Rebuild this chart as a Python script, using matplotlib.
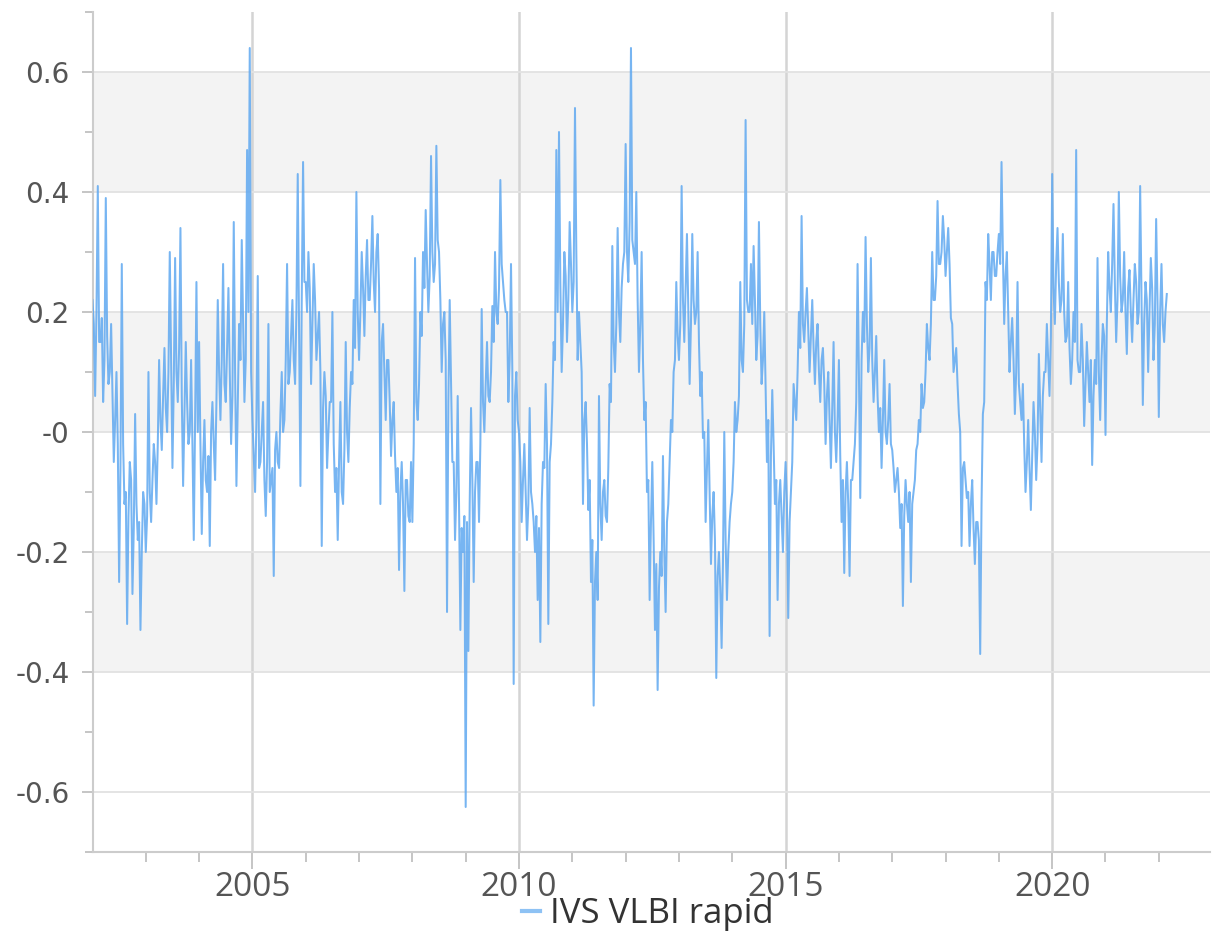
import numpy as np
import matplotlib
matplotlib.use("Agg")
import matplotlib.pyplot as plt
from matplotlib.ticker import MultipleLocator, FixedLocator, FuncFormatter

# spike readings every 0.05 yr, one list per year (2002.00 ... 2002.95 etc.)
y2002 = [0.22, 0.06, 0.41, 0.15, 0.05, 0.39, 0.08, 0.18, -0.05, 0.10,
         -0.25, 0.28, -0.12, -0.32, -0.05, -0.27, 0.03, -0.18, -0.33, -0.10]
y2003 = [-0.20, 0.10, -0.15, -0.02, -0.12, 0.12, -0.03, 0.14, 0.00, 0.30,
         -0.06, 0.29, 0.05, 0.34, -0.09, 0.15, -0.02, 0.12, -0.18, 0.25]
y2004 = [0.15, -0.17, 0.02, -0.10, -0.19, 0.05, -0.08, 0.22, 0.02, 0.28,
         0.05, 0.24, -0.02, 0.35, -0.09, 0.18, 0.32, 0.05, 0.47, 0.64]
y2005 = [0.02, -0.10, 0.26, -0.05, 0.05, -0.14, 0.18, -0.08, -0.24, 0.00,
         -0.06, 0.10, 0.02, 0.28, 0.10, 0.22, 0.08, 0.43, -0.09, 0.45]
y2006 = [0.25, 0.30, 0.08, 0.28, 0.12, 0.20, -0.19, 0.10, -0.06, 0.05,
         0.20, -0.10, -0.18, 0.05, -0.12, 0.15, -0.05, 0.10, 0.22, 0.40]
y2007 = [0.12, 0.30, 0.16, 0.32, 0.22, 0.36, 0.20, 0.33, -0.12, 0.18,
         0.02, 0.12, -0.04, 0.05, -0.10, -0.23, -0.05, -0.265, -0.08, -0.15]
y2008 = [-0.15, 0.29, 0.02, 0.20, 0.30, 0.37, 0.20, 0.46, 0.25, 0.477,
         0.30, 0.10, 0.20, -0.30, 0.22, -0.05, -0.18, 0.06, -0.33, -0.20]
y2009 = [-0.625, -0.365, 0.04, -0.25, -0.05, -0.15, 0.205, 0.00, 0.15, 0.05,
         0.21, 0.30, 0.18, 0.42, 0.25, 0.20, 0.05, 0.28, -0.42, 0.10]
y2010 = [0.00, -0.15, -0.02, -0.18, 0.04, -0.12, -0.20, -0.28, -0.35, -0.05,
         0.08, -0.32, -0.02, 0.15, 0.47, 0.50, 0.10, 0.30, 0.15, 0.35]
y2011 = [0.20, 0.54, 0.12, 0.15, -0.12, 0.05, -0.13, -0.25, -0.456, -0.20,
         0.06, -0.18, -0.08, -0.15, 0.08, 0.31, 0.10, 0.34, 0.15, 0.28]
y2012 = [0.48, 0.25, 0.64, 0.30, 0.40, 0.10, 0.30, 0.02, -0.10, -0.28,
         -0.05, -0.33, -0.43, -0.20, -0.04, -0.30, -0.12, 0.02, 0.10, 0.25]
y2013 = [0.12, 0.41, 0.15, 0.33, 0.08, 0.33, 0.18, 0.30, 0.06, -0.01,
         -0.15, 0.02, -0.22, -0.10, -0.41, -0.20, -0.36, 0.00, -0.28, -0.15]
y2014 = [-0.10, 0.05, 0.02, 0.25, 0.10, 0.52, 0.20, 0.28, 0.31, 0.12,
         0.35, 0.08, 0.20, -0.05, -0.34, 0.07, -0.12, -0.28, -0.08, -0.20]
y2015 = [-0.05, -0.31, -0.10, 0.08, 0.02, 0.20, 0.36, 0.15, 0.24, 0.10,
         0.22, 0.08, 0.18, 0.05, 0.14, -0.02, 0.10, -0.06, 0.15, -0.05]
y2016 = [0.12, -0.15, -0.235, -0.05, -0.24, -0.08, -0.02, 0.28, -0.11, 0.20,
         0.325, 0.10, 0.29, 0.05, 0.16, 0.00, -0.06, 0.12, -0.02, 0.08]
y2017 = [-0.03, -0.10, -0.06, -0.16, -0.29, -0.08, -0.15, -0.25, -0.10, -0.03,
         0.02, 0.08, 0.05, 0.18, 0.12, 0.30, 0.22, 0.385, 0.28, 0.36]
y2018 = [0.26, 0.34, 0.19, 0.10, 0.14, 0.03, -0.19, -0.05, -0.11, -0.19,
         -0.08, -0.22, -0.15, -0.37, 0.03, 0.25, 0.33, 0.22, 0.30, 0.26]
y2019 = [0.33, 0.45, 0.18, 0.30, 0.10, 0.19, 0.03, 0.25, 0.05, 0.08,
         -0.10, 0.02, -0.13, 0.05, -0.08, 0.13, -0.05, 0.10, 0.18, 0.06]
y2020 = [0.43, 0.18, 0.34, 0.20, 0.33, 0.15, 0.25, 0.08, 0.20, 0.47,
         0.10, 0.18, 0.01, 0.15, 0.05, -0.055, 0.12, 0.29, 0.02, 0.18]
y2021 = [-0.005, 0.30, 0.20, 0.38, 0.15, 0.40, 0.20, 0.30, 0.13, 0.27,
         0.15, 0.28, 0.18, 0.41, 0.045, 0.25, 0.10, 0.29, 0.12, 0.355]
y2022 = [0.025, 0.28, 0.15, 0.23]

# core (typical) readings between the spikes, at 2002.025, 2002.075, ...
c2002 = [0.18, 0.20, 0.15, 0.19, 0.12, 0.16, 0.10, 0.06, 0.02, -0.02,
         -0.06, -0.02, -0.10, -0.14, -0.08, -0.16, -0.12, -0.15, -0.20, -0.12]
c2003 = [-0.14, -0.10, -0.08, -0.05, -0.02, 0.02, 0.06, 0.04, 0.10, 0.12,
         0.08, 0.10, 0.14, 0.06, 0.03, 0.05, 0.00, -0.02, 0.02, 0.00]
c2004 = [-0.02, -0.05, -0.08, -0.04, 0.00, -0.02, 0.05, 0.10, 0.12, 0.08,
         0.14, 0.10, 0.06, 0.10, 0.05, 0.12, 0.18, 0.12, 0.20, 0.10]
c2005 = [-0.04, 0.02, -0.06, 0.00, -0.08, -0.05, -0.10, -0.06, -0.03, -0.05,
         0.03, 0.00, 0.12, 0.08, 0.16, 0.12, 0.20, 0.16, 0.22, 0.25]
c2006 = [0.20, 0.24, 0.18, 0.22, 0.16, 0.10, 0.04, 0.06, 0.00, 0.05,
         -0.02, -0.06, -0.05, -0.10, -0.03, 0.00, 0.04, 0.08, 0.14, 0.20]
c2007 = [0.20, 0.24, 0.26, 0.22, 0.28, 0.25, 0.30, 0.24, 0.15, 0.10,
         0.12, 0.05, 0.02, -0.04, -0.06, -0.10, -0.12, -0.08, -0.14, -0.05]
c2008 = [-0.02, 0.05, 0.08, 0.16, 0.24, 0.28, 0.26, 0.30, 0.28, 0.32,
         0.22, 0.18, 0.12, 0.05, 0.08, -0.05, -0.10, -0.12, -0.16, -0.14]
c2009 = [-0.15, -0.12, -0.08, -0.10, -0.05, -0.02, 0.05, 0.08, 0.06, 0.10,
         0.15, 0.20, 0.24, 0.28, 0.22, 0.20, 0.12, 0.10, 0.06, 0.02]
c2010 = [-0.05, -0.08, -0.10, -0.12, -0.10, -0.15, -0.14, -0.16, -0.12, -0.06,
         -0.02, -0.05, 0.05, 0.12, 0.20, 0.25, 0.18, 0.26, 0.22, 0.28]
c2011 = [0.25, 0.30, 0.20, 0.10, 0.02, -0.02, -0.08, -0.18, -0.25, -0.28,
         -0.12, -0.10, -0.14, -0.06, 0.05, 0.15, 0.18, 0.20, 0.24, 0.30]
c2012 = [0.30, 0.35, 0.32, 0.28, 0.22, 0.18, 0.12, 0.05, -0.08, -0.15,
         -0.18, -0.22, -0.26, -0.24, -0.20, -0.15, -0.05, 0.00, 0.12, 0.16]
c2013 = [0.18, 0.22, 0.24, 0.20, 0.18, 0.22, 0.20, 0.15, 0.10, 0.00,
         -0.06, -0.10, -0.14, -0.18, -0.24, -0.26, -0.22, -0.18, -0.20, -0.12]
c2014 = [-0.05, 0.00, 0.06, 0.12, 0.18, 0.22, 0.20, 0.18, 0.22, 0.16,
         0.18, 0.12, 0.08, 0.02, -0.04, -0.02, -0.08, -0.12, -0.14, -0.10]
c2015 = [-0.12, -0.15, -0.05, 0.05, 0.10, 0.14, 0.18, 0.20, 0.17, 0.16,
         0.14, 0.15, 0.10, 0.12, 0.08, 0.06, 0.02, 0.04, 0.00, 0.02]
c2016 = [-0.04, -0.08, -0.10, -0.12, -0.08, -0.05, 0.05, 0.10, 0.12, 0.15,
         0.18, 0.14, 0.12, 0.10, 0.06, 0.04, 0.02, 0.00, 0.02, -0.02]
c2017 = [-0.06, -0.08, -0.10, -0.12, -0.14, -0.12, -0.10, -0.12, -0.08, -0.02,
         0.00, 0.04, 0.10, 0.14, 0.18, 0.22, 0.26, 0.28, 0.30, 0.32]
c2018 = [0.30, 0.28, 0.18, 0.12, 0.08, 0.00, -0.06, -0.08, -0.10, -0.12,
         -0.16, -0.15, -0.18, -0.12, 0.05, 0.22, 0.28, 0.30, 0.26, 0.30]
c2019 = [0.28, 0.30, 0.26, 0.20, 0.15, 0.12, 0.10, 0.08, 0.02, -0.02,
         -0.05, -0.06, -0.04, 0.00, -0.02, 0.04, 0.06, 0.10, 0.12, 0.16]
c2020 = [0.24, 0.28, 0.25, 0.22, 0.20, 0.16, 0.14, 0.12, 0.15, 0.12,
         0.10, 0.12, 0.08, 0.10, 0.12, 0.06, 0.08, 0.10, 0.12, 0.16]
c2021 = [0.18, 0.24, 0.28, 0.25, 0.22, 0.26, 0.22, 0.20, 0.24, 0.20,
         0.22, 0.25, 0.20, 0.22, 0.18, 0.22, 0.20, 0.24, 0.18, 0.22]
c2022 = [0.20, 0.18, 0.20]

start_year = 2002.0
step = 0.05
label = "IVS VLBI rapid"

spikes = np.array(y2002 + y2003 + y2004 + y2005 + y2006 + y2007 + y2008
                  + y2009 + y2010 + y2011 + y2012 + y2013 + y2014 + y2015
                  + y2016 + y2017 + y2018 + y2019 + y2020 + y2021 + y2022)
core = np.array(c2002 + c2003 + c2004 + c2005 + c2006 + c2007 + c2008
                + c2009 + c2010 + c2011 + c2012 + c2013 + c2014 + c2015
                + c2016 + c2017 + c2018 + c2019 + c2020 + c2021 + c2022)
t_spikes = start_year + step * np.arange(len(spikes))
t_core = start_year + step / 2 + step * np.arange(len(core))

years = np.concatenate([t_spikes, t_core])
values = np.concatenate([spikes, core])
order = np.argsort(years)
years, values = years[order], values[order]

fig = plt.figure(figsize=(12.12, 9.36), dpi=100)
ax = fig.add_axes([93 / 1212, 84 / 936, 1117 / 1212, 840 / 936])

# alternating grey bands
for lo in (0.4, 0.0, -0.4):
    ax.axhspan(lo, lo + 0.2, color="#f3f3f3", zorder=0, lw=0)

ax.plot(years, values, color="#5fa8f0", lw=1.45, alpha=0.85, label=label, zorder=3)

ax.set_xlim(2002.01, 2022.96)
ax.set_ylim(-0.7, 0.7)

ax.xaxis.set_major_locator(FixedLocator([2005, 2010, 2015, 2020]))
ax.xaxis.set_minor_locator(MultipleLocator(1))
ax.yaxis.set_major_locator(MultipleLocator(0.2))
ax.yaxis.set_minor_locator(MultipleLocator(0.1))
ax.yaxis.set_major_formatter(FuncFormatter(
    lambda v, p: "-0" if abs(v) < 1e-9 else f"{v:.1f}".replace("\u2212", "-")))

ax.grid(True, axis="y", which="major", color="#e2e2e2", lw=1.3, zorder=1)
ax.grid(True, axis="x", which="major", color="#d4d4d4", lw=1.8, zorder=1)

for s in ("top", "right"):
    ax.spines[s].set_visible(False)
for s in ("left", "bottom"):
    ax.spines[s].set_color("#cccccc")
    ax.spines[s].set_linewidth(1.5)

ax.tick_params(axis="y", which="major", length=8, width=1.2, color="#bbbbbb",
               labelsize=20, labelcolor="#555555", pad=9)
ax.tick_params(axis="y", which="minor", length=6, width=1.2, color="#bbbbbb")
ax.tick_params(axis="x", which="major", length=12, width=1.2, color="#bbbbbb",
               labelsize=24, labelcolor="#555555", pad=2)
ax.tick_params(axis="x", which="minor", length=7, width=1.2, color="#bbbbbb")
for t in ax.get_xticklabels():
    t.set_fontfamily("Open Sans")

leg = ax.legend(loc="center", bbox_to_anchor=(0.497, -0.074), frameon=False,
                handlelength=0.5, handletextpad=0.3, borderpad=0,
                prop={"family": "Open Sans", "size": 25})
for t in leg.get_texts():
    t.set_color("#333333")
for h in leg.get_lines():
    h.set_linewidth(3)
    h.set_alpha(0.7)

fig.savefig("out.png", dpi=100)
